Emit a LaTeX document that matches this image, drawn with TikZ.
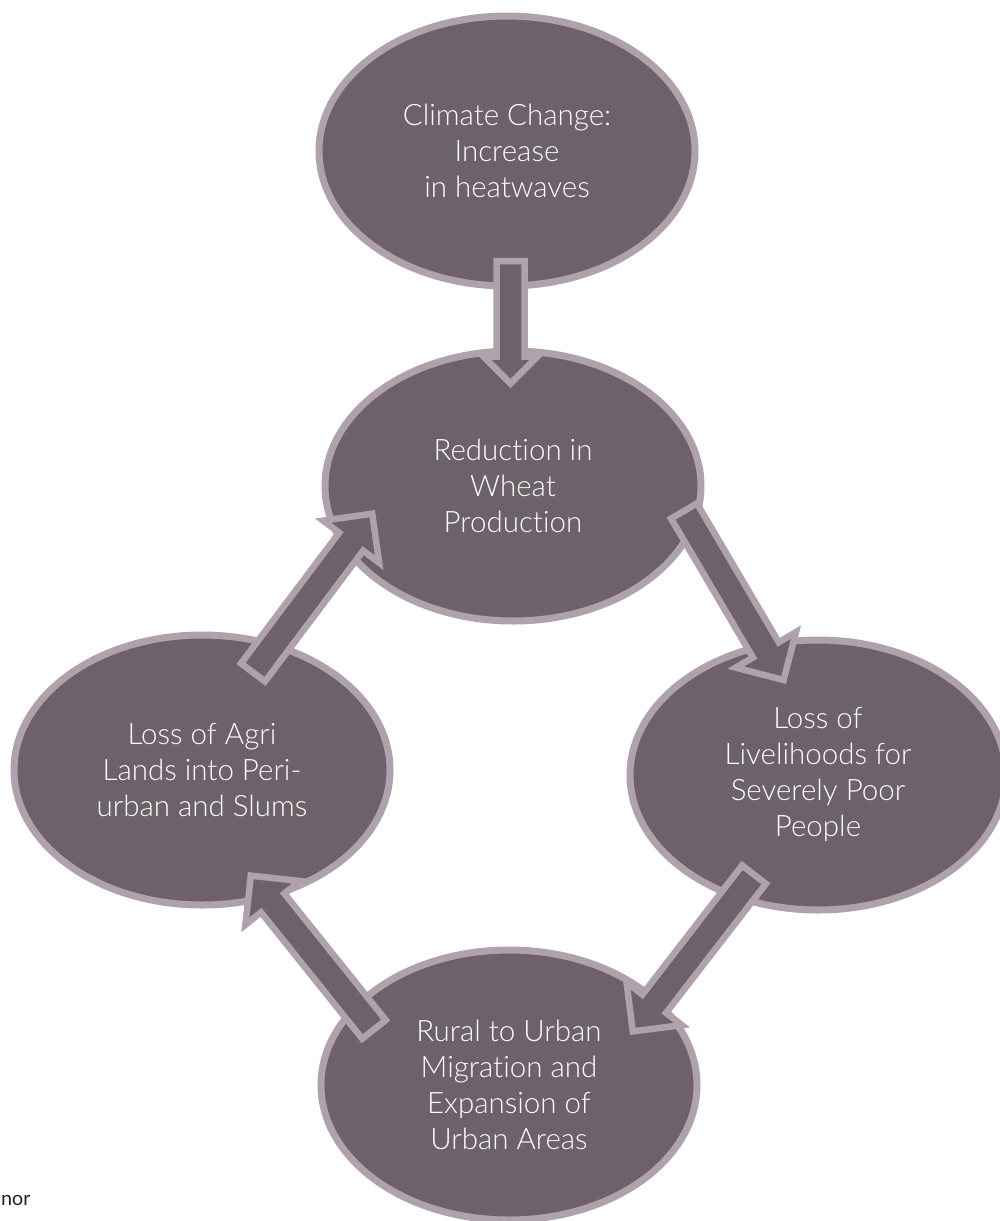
\documentclass[tikz,border=0pt]{standalone}
\usepackage{fontspec}
\setmainfont{Lato}[UprightFont={* Light}, Ligatures={NoCommon}, RawFeature={-liga;-dlig}]
\newfontfamily\notefont{Carlito}
\usetikzlibrary{shapes.geometric,calc}
\definecolor{fillc}{RGB}{109,98,106}
\definecolor{linec}{RGB}{176,162,172}
\tikzset{
  bubble/.style={ellipse, draw=linec, fill=fillc, line width=7pt,
    minimum width=376pt, minimum height=270pt, inner sep=0pt,
    text=white, align=center, font=\fontsize{29.5}{36}\selectfont},
  blockarrow/.style={draw=linec, fill=fillc, line width=6.5pt, line join=miter, miter limit=10},
}
\newcommand\blockarr[5]{%
  \coordinate (hb) at ($(#2)!#5!(#1)$);
  \path[blockarrow] ($(#1)!#3!90:(#2)$) -- ($(hb)!#3!90:(#2)$) -- ($(hb)!#4!90:(#2)$)
    -- (#2) -- ($(hb)!#4!-90:(#2)$) -- ($(hb)!#3!-90:(#2)$) -- ($(#1)!#3!-90:(#2)$) -- cycle;}
\begin{document}
\begin{tikzpicture}[x=1pt,y=-1pt]
\useasboundingbox (0,0) rectangle (999,1221);
\node[bubble] (cc) at (507,151) {Climate Change:\\Increase\\in heatwaves};
\node[bubble] (wheat) at (513,486) {Reduction in\\Wheat\\Production};
\node[bubble] (agri) at (202,770) {Loss of Agri\\Lands into Peri-\\urban and Slums};
\node[bubble] (liv) at (818,775) {Loss of\\Livelihoods for\\Severely Poor\\People};
\node[bubble] (rural) at (509,1085) {Rural to Urban\\Migration and\\Expansion of\\Urban Areas};
\node[anchor=base west, inner sep=0pt, font=\notefont\fontsize{21}{24}\selectfont, text=black!85] (src) at (1,1205) {nor};
% arrows
\coordinate (a1t) at (510.5,261); \coordinate (a1h) at (510.5,383.5);
\blockarr{a1t}{a1h}{14pt}{27pt}{27pt}
\coordinate (a2t) at (684,511); \coordinate (a2h) at (783.6,680);
\blockarr{a2t}{a2h}{15pt}{35pt}{35pt}
\coordinate (a3t) at (754,874.6); \coordinate (a3h) at (632.8,1031.4);
\blockarr{a3t}{a3h}{15pt}{35pt}{35pt}
\coordinate (a4t) at (374,1029.4); \coordinate (a4h) at (250.8,875.6);
\blockarr{a4t}{a4h}{15pt}{35pt}{35pt}
\coordinate (a5t) at (253,672.4); \coordinate (a5h) at (372.2,513.7);
\blockarr{a5t}{a5h}{15pt}{35pt}{35pt}
\end{tikzpicture}
\end{document}
